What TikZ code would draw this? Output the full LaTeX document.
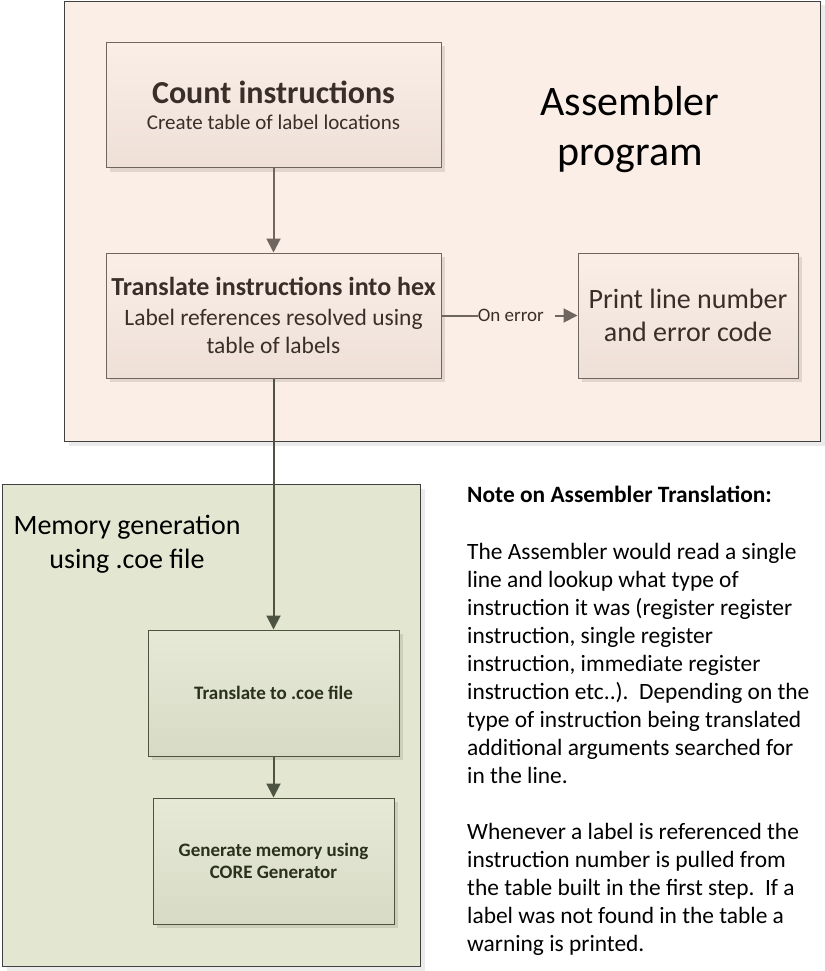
\documentclass[tikz,border=0pt]{standalone}
\usepackage{fontspec}
\setmainfont{Carlito}
\usetikzlibrary{arrows.meta,positioning,shadows}
\tikzset{every node/.append style={align=center}}
\definecolor{asmfill}{RGB}{251,238,230}
\definecolor{asmtop}{RGB}{250,238,231}
\definecolor{asmbottom}{RGB}{238,224,215}
\definecolor{asmline}{RGB}{112,102,96}
\definecolor{asmtext}{RGB}{58,46,40}
\definecolor{memfill}{RGB}{227,231,210}
\definecolor{memtop}{RGB}{229,233,214}
\definecolor{membottom}{RGB}{215,219,198}
\definecolor{memline}{RGB}{78,84,66}
\definecolor{memtext}{RGB}{42,48,30}
\definecolor{framecolor}{RGB}{64,64,64}
\tikzset{
  frame/.style={draw=framecolor, line width=1pt, anchor=north west, inner sep=0pt,
    drop shadow={shadow xshift=4pt, shadow yshift=-4pt, fill=black, opacity=0.08}},
  asmbox/.style={draw=asmline, line width=1pt, top color=asmtop, bottom color=asmbottom,
    text=asmtext, drop shadow={shadow xshift=4pt, shadow yshift=-4pt, fill=black, opacity=0.10}},
  membox/.style={draw=memline, line width=1pt, top color=memtop, bottom color=membottom,
    text=memtext, font=\fontsize{19}{22}\selectfont\bfseries,
    drop shadow={shadow xshift=4pt, shadow yshift=-4pt, fill=black, opacity=0.10}},
  asmarrow/.style={draw=asmline, line width=2pt, -{Triangle[length=14pt,width=14pt]}},
  memarrow/.style={draw=memline, line width=2pt, -{Triangle[length=14pt,width=14pt]}},
  onerror/.style={fill=asmfill, text=asmtext, font=\fontsize{19}{22}\selectfont,
    inner xsep=0pt, inner ysep=2pt}
}

\begin{document}
\begin{tikzpicture}[x=1pt, y=-1pt]
    \useasboundingbox (0,0) rectangle (824,971);

    % Assembler program
    \node[frame, fill=asmfill, minimum width=756pt, minimum height=440pt] (asmframe) at (64,1) {};
    \node[font=\fontsize{42}{50}\selectfont] (asmtitle) at (630,130) {Assembler\\program};

    \node[asmbox, minimum width=335pt, minimum height=125pt, font=\fontsize{21}{32}\selectfont] (count) at (273.5,105)
        {{\fontsize{32}{32}\selectfont\bfseries Count instructions}\\[-6pt]
         Create table of label locations};
    \node[asmbox, minimum width=335pt, minimum height=125pt, font=\fontsize{23.5}{28}\selectfont] (hex) at (273.5,315.5)
        {{\fontsize{26}{28}\selectfont\bfseries Translate instructions into hex}\\[2pt]
         Label references resolved using\\table of labels};
    \node[asmbox, minimum width=220pt, minimum height=125pt, font=\fontsize{28}{33}\selectfont] (print) at (688,315.5)
        {Print line number\\and error code};

    % Memory generation
    \node[frame, fill=memfill, minimum width=418pt, minimum height=482pt] (memframe) at (2,484) {};
    \node[font=\fontsize{28}{34}\selectfont] (memtitle) at (127,544) {Memory generation\\using .coe file};

    \node[membox, minimum width=251pt, minimum height=126pt] (coe) at (273.5,693) {Translate to .coe file};
    \node[membox, minimum width=241pt, minimum height=126pt] (gen) at (273.5,861)
        {Generate memory using\\CORE Generator};

    % Connectors
    \draw[asmarrow] (count) -- (hex);
    \draw[asmarrow] (hex) -- node[onerror, pos=0.26, anchor=west] {On error\hspace{11pt}} (print);
    \draw[memarrow] (hex) -- (coe);
    \draw[memarrow] (coe) -- (gen);

    % Note
    \node[anchor=north west, align=left, font=\fontsize{23.4}{28}\selectfont, inner sep=0pt] (note) at (467,486)
        {\textbf{Note on Assembler Translation:}\\[29pt]
         The Assembler would read a single\\
         line and lookup what type of\\
         instruction it was (register register\\
         instruction, single register\\
         instruction, immediate register\\
         instruction etc..).\ \ Depending on the\\
         type of instruction being translated\\
         additional arguments searched for\\
         in the line.\\[28pt]
         Whenever a label is referenced the\\
         instruction number is pulled from\\
         the table built in the first step.\ \ If a\\
         label was not found in the table a\\
         warning is printed.};
\end{tikzpicture}
\end{document}
